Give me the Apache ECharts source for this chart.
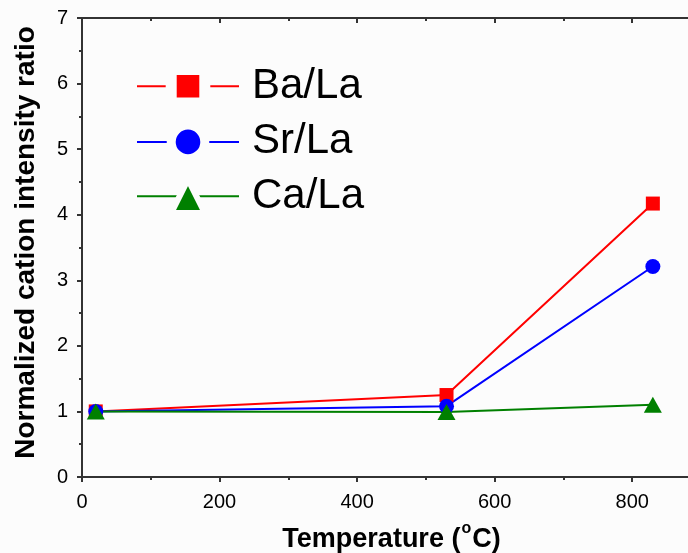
<!DOCTYPE html>
<html>
<head>
<meta charset="utf-8">
<script src="https://cdn.jsdelivr.net/npm/echarts@6/dist/echarts.min.js"></script>
<style>
  html, body { margin: 0; padding: 0; background: #fcfcfc; }
  #chart { width: 688px; height: 553px; }
</style>
</head>
<body>
<div id="chart"></div>
<script>
// Annealing temperature (°C) and normalized cation intensity ratios
const temperatures = [20, 530, 830];
const baLa = [1.0, 1.25, 4.17];
const srLa = [1.0, 1.08, 3.21];
const caLa = [1.0, 0.99, 1.10];
const seriesNames = ['Ba/La', 'Sr/La', 'Ca/La'];

const FONT = "'Liberation Sans', Arial, sans-serif";
const AXIS_COLOR = '#333';
const BG = '#fcfcfc';

function pairs(ys) {
  return temperatures.map((t, i) => [t, ys[i]]);
}

const chart = echarts.init(document.getElementById('chart'), null, { renderer: 'canvas' });

// common axis settings; several copies give major/minor ticks on bottom, top and left
function xAxisBase(extra) {
  return Object.assign({
    type: 'value', min: 0, max: 900, gridIndex: 0,
    splitLine: { show: false },
    axisLine: { show: true, onZero: false, lineStyle: { color: AXIS_COLOR, width: 2 } }
  }, extra);
}
function yAxisBase(extra) {
  return Object.assign({
    type: 'value', min: 0, max: 7, gridIndex: 0,
    splitLine: { show: false },
    axisLine: { show: true, onZero: false, lineStyle: { color: AXIS_COLOR, width: 2 } }
  }, extra);
}

// legend markers get a background-coloured ring so the key line breaks around them
const legendBorder = { 'Ba/La': 11, 'Sr/La': 9, 'Ca/La': 6 };

const option = {
  backgroundColor: BG,
  animation: false,
  textStyle: { fontFamily: FONT },
  grid: { left: 82, right: -13, top: 18, bottom: 76, outerBoundsMode: 'none', containLabel: false },
  legend: {
    orient: 'vertical',
    left: 136, top: 64,
    padding: 0,
    itemWidth: 102, itemHeight: 42, itemGap: 12,
    data: seriesNames.map(n => ({
      name: n,
      itemStyle: { borderColor: BG, borderWidth: legendBorder[n], borderJoin: 'round' }
    })),
    textStyle: { fontFamily: FONT, fontSize: 42, color: '#000', lineHeight: 42, padding: [0, 0, 0, 8] }
  },
  xAxis: [
    xAxisBase({
      position: 'bottom', interval: 200,
      axisTick: { show: true, inside: false, length: 5, lineStyle: { color: AXIS_COLOR, width: 2 } },
      axisLabel: { show: true, showMaxLabel: false, margin: 15, fontSize: 20, color: '#000', fontFamily: FONT },
      name: '{b|Temperature (}{s|o}{b|C)}',
      nameLocation: 'middle', nameGap: 44,
      nameTextStyle: {
        rich: {
          b: { fontSize: 27, fontWeight: 'bold', color: '#000', fontFamily: FONT },
          s: { fontSize: 16, fontWeight: 'bold', color: '#000', fontFamily: FONT, padding: [0, 1, 22, 1] }
        }
      }
    }),
    xAxisBase({
      position: 'bottom', interval: 100,
      axisTick: { show: true, inside: false, length: 3, lineStyle: { color: AXIS_COLOR, width: 2 } },
      axisLabel: { show: false }
    }),
    xAxisBase({
      position: 'top', interval: 200,
      axisTick: { show: true, inside: true, length: 5, lineStyle: { color: AXIS_COLOR, width: 2 } },
      axisLabel: { show: false }
    }),
    xAxisBase({
      position: 'top', interval: 100,
      axisTick: { show: true, inside: true, length: 3, lineStyle: { color: AXIS_COLOR, width: 2 } },
      axisLabel: { show: false }
    })
  ],
  yAxis: [
    yAxisBase({
      position: 'left', interval: 1,
      axisTick: { show: true, inside: false, length: 5, lineStyle: { color: AXIS_COLOR, width: 2 } },
      axisLabel: { show: true, margin: 14, fontSize: 20, color: '#000', fontFamily: FONT },
      name: 'Normalized cation intensity ratio',
      nameLocation: 'middle', nameGap: 42,
      nameTextStyle: { fontSize: 28, fontWeight: 'bold', color: '#000', fontFamily: FONT, padding: [0, 0, 0, 10] }
    }),
    yAxisBase({
      position: 'left', interval: 0.5,
      axisTick: { show: true, inside: false, length: 3, lineStyle: { color: AXIS_COLOR, width: 2 } },
      axisLabel: { show: false }
    })
  ],
  series: [
    {
      name: 'Ba/La', type: 'line', data: pairs(baLa),
      symbol: 'rect', symbolSize: 14,
      lineStyle: { color: '#ff0000', width: 2 },
      itemStyle: { color: '#ff0000' }
    },
    {
      name: 'Sr/La', type: 'line', data: pairs(srLa),
      symbol: 'circle', symbolSize: 15,
      lineStyle: { color: '#0000ff', width: 2 },
      itemStyle: { color: '#0000ff' }
    },
    {
      name: 'Ca/La', type: 'line', data: pairs(caLa),
      symbol: 'triangle', symbolSize: [18, 16],
      lineStyle: { color: '#008000', width: 2 },
      itemStyle: { color: '#008000' }
    }
  ]
};

chart.setOption(option);
</script>
</body>
</html>
